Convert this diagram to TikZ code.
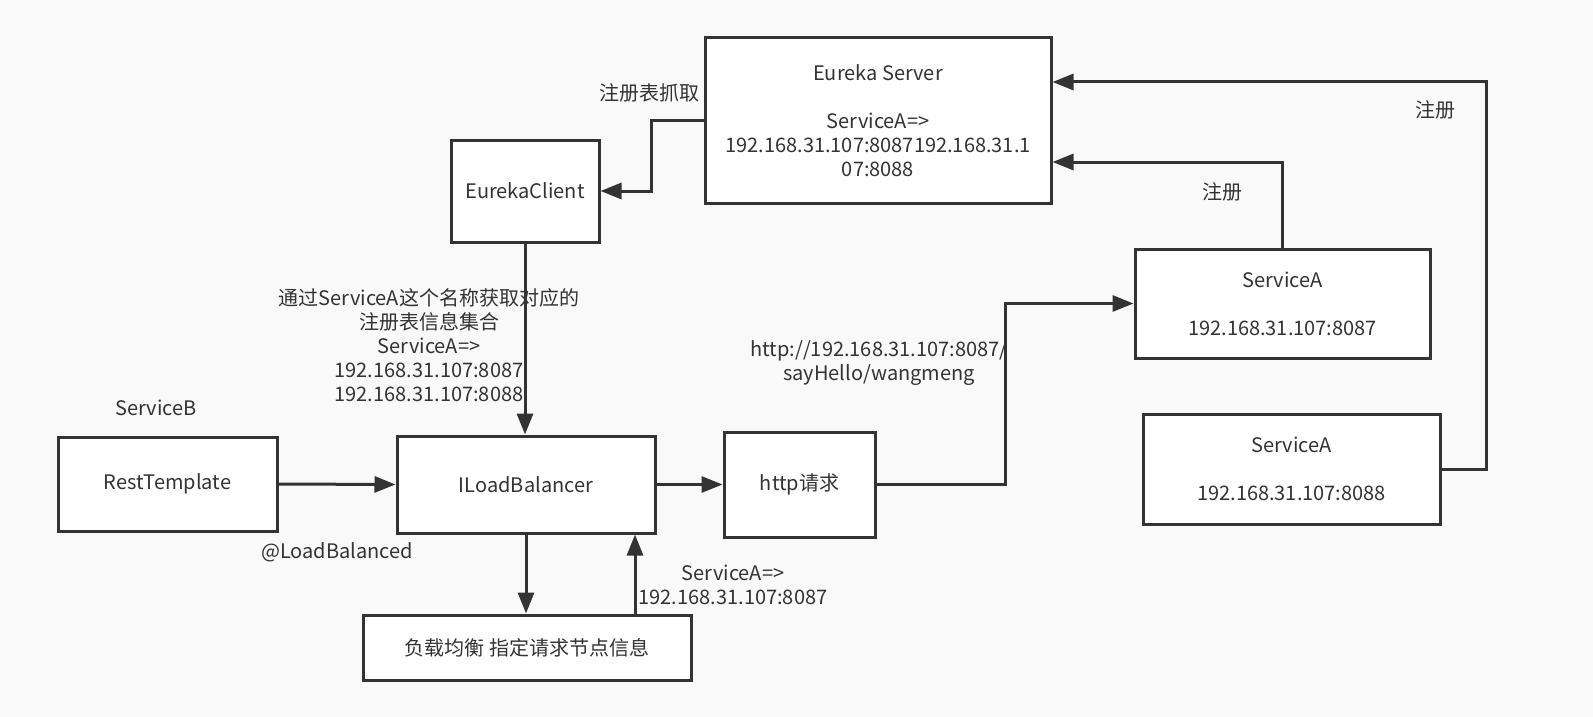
\documentclass[tikz,border=0pt]{standalone}
\usepackage{fontspec}
\setmainfont{Noto Sans CJK SC}
\usetikzlibrary{arrows.meta}
\definecolor{bgcol}{HTML}{F9F9F9}
\definecolor{ink}{HTML}{333333}

\begin{document}
\begin{tikzpicture}[x=1pt,y=-1pt,
  box/.style={rectangle,draw=ink,line width=3pt,fill=white,align=center,
    text=ink,font=\fontsize{20}{24}\selectfont,inner sep=0pt},
  lbl/.style={align=center,text=ink,font=\fontsize{20}{24}\selectfont,inner sep=0pt},
  conn/.style={draw=ink,line width=3pt,-{Triangle[length=21pt,width=16pt]}}]
\fill[bgcol] (0,0) rectangle (1593,717);
\useasboundingbox (0,0) rectangle (1593,717);

\path (878,120.5) node[box,minimum width=346,minimum height=165] (eureka)
  {Eureka Server\\[24pt]ServiceA=>\\192.168.31.107:8087192.168.31.1\\07:8088};
\path (525,191) node[box,minimum width=148,minimum height=102] (client) {EurekaClient};
\path (1282.5,303.5) node[box,minimum width=295,minimum height=109] (svcA1)
  {ServiceA\\[24pt]192.168.31.107:8087};
\path (1291.5,469) node[box,minimum width=297,minimum height=110] (svcA2)
  {ServiceA\\[24pt]192.168.31.107:8088};
\path (167.5,484) node[box,minimum width=219,minimum height=94] (rest) {RestTemplate};
\path (526,484.5) node[box,minimum width=258,minimum height=97] (ilb) {ILoadBalancer};
\path (799.5,484.5) node[box,minimum width=151,minimum height=105] (http) {http请求};
\path (527,647.5) node[box,minimum width=328,minimum height=65] (lb) {负载均衡 指定请求节点信息};

% labels
\path (649,93) node[lbl] (fetch) {注册表抓取};
\path (429,345) node[lbl] (query) {通过ServiceA这个名称获取对应的\\注册表信息集合\\ServiceA=>\\192.168.31.107:8087\\192.168.31.107:8088};
\path (156,408) node[lbl] (svcB) {ServiceB};
\path (337,552) node[lbl] (anno) {@LoadBalanced};
\path (733,585) node[lbl] (pick) {ServiceA=>\\192.168.31.107:8087};
\path (879,363) node[lbl] (url) {http://192.168.31.107:8087/\\sayHello/wangmeng};
\path (1222,192) node[lbl] (reg1) {注册};
\path (1435,110) node[lbl] (reg2) {注册};

% connectors
\draw[conn] (eureka.west) -- ++(-52,0) |- (client.east);
\draw[conn] (client.south) -- (client.south |- ilb.north);
\draw[conn] (rest.east) -- (ilb.west);
\draw[conn] (ilb.east) -- (http.west);
\draw[conn] (http.east) -- ++(129,0) |- (svcA1.west);
\draw[conn] (ilb.south) -- (ilb.south |- lb.north);
\draw[conn] ([xshift=108pt]lb.north) -- ([xshift=108pt]lb.north |- ilb.south);
\draw[conn] (svcA1.north) |- ([yshift=-41.5pt]eureka.east);
\draw[conn] (svcA2.east) -- ++(45,0) |- ([yshift=38.5pt]eureka.east);
\end{tikzpicture}
\end{document}
